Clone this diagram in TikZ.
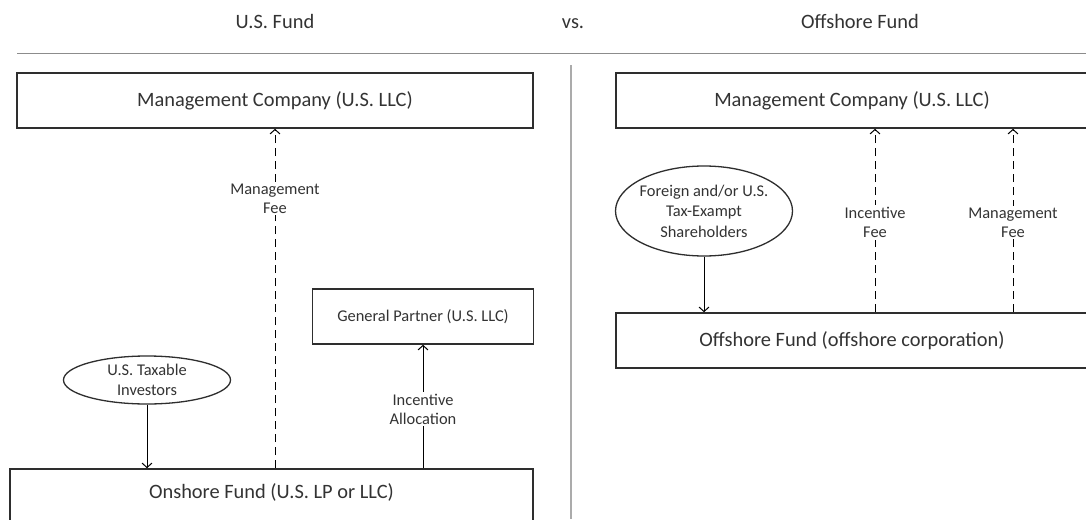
\documentclass[tikz,border=0pt]{standalone}
\usepackage{fontspec}
\setmainfont{Carlito}
\usetikzlibrary{arrows.meta,shapes.geometric}
\definecolor{txt}{HTML}{333333}
\definecolor{edge}{HTML}{2E2E2E}
\definecolor{rule}{HTML}{8C8C8C}
\definecolor{divider}{HTML}{ABABAB}
\begin{document}
\begin{tikzpicture}[x=1pt,y=-1pt,
  box/.style={draw=edge,line width=1.6pt,rectangle,inner sep=0pt,text=txt,
    font=\fontsize{20.4}{24}\selectfont},
  smallbox/.style={box,font=\fontsize{16.4}{20}\selectfont},
  oval/.style={draw=edge,line width=1.3pt,ellipse,inner sep=0pt},
  ovaltext/.style={text=txt,align=center,inner sep=0pt,font=\fontsize{16.4}{20.5}\selectfont},
  lbl/.style={fill=white,inner sep=2pt,text=txt,align=center,font=\fontsize{16.4}{19}\selectfont},
  head/.style={text=txt,anchor=base,inner sep=0pt,font=\fontsize{20.4}{24}\selectfont},
  flow/.style={draw=black,line width=1pt,-{Straight Barb[length=4.5pt,width=10pt]}},
  feeflow/.style={flow,dash pattern=on 8pt off 5pt}]
\clip (0,0) rectangle (1086,519);
\fill[white] (0,0) rectangle (1086,519);

% headers
\node[head] (h1) at (275,29) {U.S. Fund};
\node[head] (h2) at (573,29) {vs.};
\node[head] (h3) at (860,29) {Offshore Fund};
\coordinate (ruleA) at (17,54);
\coordinate (ruleB) at (1086,54);
\draw[rule,line width=1pt] (ruleA) -- (ruleB);
\coordinate (divA) at (571,65);
\coordinate (divB) at (571,519);
\draw[divider,line width=1.8pt] (divA) -- (divB);

% left side
\node[box,minimum width=516pt,minimum height=55pt] (mgmtL) at (275,100.5) {Management Company (U.S. LLC)};
\node[smallbox,minimum width=221pt,minimum height=55pt] (gp) at (423,316.5) {General Partner (U.S. LLC)};
\node[box,minimum width=523pt,minimum height=55pt,text depth=10pt] (on) at (271.5,496.5) {Onshore Fund (U.S. LP or LLC)};
\node[oval,minimum width=167pt,minimum height=48pt,
  label={[ovaltext]center:U.S. Taxable\\Investors}] (invL) at (147,380) {};

\draw[feeflow] (on.north -| mgmtL.south) -- node[lbl,pos=0.795] {Management\\Fee} (mgmtL.south);
\draw[flow] (on.north -| gp.south) -- node[lbl,pos=0.48] {Incentive\\Allocation} (gp.south);
\draw[flow] (invL.south) -- (invL.south |- on.north);

% right side
\node[box,minimum width=472pt,minimum height=55pt] (mgmtR) at (852,100.5) {Management Company (U.S. LLC)};
\node[box,minimum width=472pt,minimum height=55pt] (off) at (852,340.5) {Offshore Fund (offshore corporation)};
\node[oval,minimum width=177pt,minimum height=90pt,
  label={[ovaltext]center:Foreign and/or U.S.\\Tax-Exampt\\Shareholders}] (invR) at (704,211) {};
\coordinate (xi) at (875,0);
\coordinate (xm) at (1013,0);

\draw[flow] (invR.south) -- (invR.south |- off.north);
\draw[feeflow] (off.north -| xi) -- node[lbl,pos=0.49] {Incentive\\Fee} (mgmtR.south -| xi);
\draw[feeflow] (off.north -| xm) -- node[lbl,pos=0.49] {Management\\Fee} (mgmtR.south -| xm);
\end{tikzpicture}
\end{document}
